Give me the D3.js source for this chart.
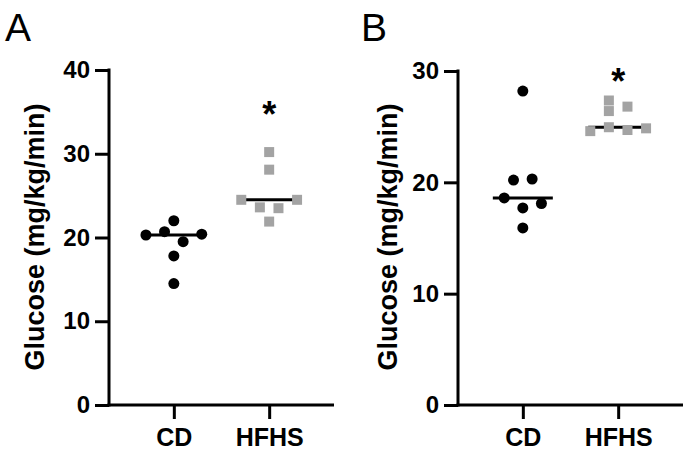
<!DOCTYPE html>
<html>
<head>
<meta charset="utf-8">
<script src="https://cdn.jsdelivr.net/npm/d3@7"></script>
<style>
  body { margin: 0; background: #fff; }
  svg { display: block; font-family: "Liberation Sans", Arial, sans-serif; }
</style>
</head>
<body>
<div id="chart"></div>
<script>
// groups on the x axis
const groups = ['CD', 'HFHS'];

// panel A values (mg/kg/min)
const cdA = [22.0, 20.3, 20.7, 20.4, 19.5, 17.8, 14.5];
const hfhsA = [30.2, 28.1, 24.5, 24.5, 23.6, 23.5, 21.9];
// panel B values (mg/kg/min)
const cdB = [28.2, 20.2, 20.3, 18.6, 18.1, 17.7, 15.9];
const hfhsB = [27.35, 26.4, 26.8, 24.6, 24.95, 24.7, 24.85];

// y axis ticks
const ticksA = [0, 10, 20, 30, 40];
const ticksB = [0, 10, 20, 30];

// significance star height (in axis units)
const starA = 36.4;
const starB = 30.4;

// horizontal dodge of each dot, in half-dot steps
const dodgeCdA = [0, -3, -1, 3, 1, 0, 0];
const dodgeHfhsA = [0, 0, -3, 3, -1, 1, 0];
const dodgeCdB = [0, -1, 1, -2, 2, 0, 0];
const dodgeHfhsB = [-1, -1, 1, -3, -1, 1, 3];

const width = 687, height = 452;
const svg = d3.select('#chart').append('svg')
    .attr('width', width)
    .attr('height', height);

const grey = '#a3a3a3';

function panel(opts) {
    const g = svg.append('g');
    const x = d3.scalePoint()
        .domain(groups)
        .range([opts.left, opts.right])
        .padding(0.68);
    const y = d3.scaleLinear()
        .domain([0, d3.max(opts.ticks)])
        .range([405, opts.top]);

    // y axis
    const ya = g.append('g')
        .attr('transform', `translate(${opts.left},0)`)
        .call(d3.axisLeft(y).tickValues(opts.ticks).tickSize(14).tickPadding(5).tickSizeOuter(0));
    // x axis
    const xa = g.append('g')
        .attr('transform', `translate(0,405)`)
        .call(d3.axisBottom(x).tickSize(14).tickSizeOuter(0));

    [ya, xa].forEach(a => {
        a.select('.domain').attr('stroke', '#000').attr('stroke-width', 3);
        a.selectAll('.tick line').attr('stroke', '#000').attr('stroke-width', 3);
        a.selectAll('.tick text')
            .attr('fill', '#000')
            .style('font-size', '24px')
            .style('font-weight', 'bold')
            .style('font-family', '"Liberation Sans", Arial, sans-serif');
    });
    ya.select('.domain').attr('d', `M0,${y.range()[1] - 1.5}V${406.5}`);
    xa.select('.domain').attr('d', `M${opts.left - 1.5},0H${opts.right}`);
    xa.selectAll('.tick text').attr('y', 41).attr('dy', 0).style('font-size', '25px');

    // y title
    g.append('text')
        .attr('transform', `translate(${opts.titleX},237) rotate(-90)`)
        .attr('text-anchor', 'middle')
        .attr('dy', '0.35em')
        .style('font-size', '27px')
        .style('font-weight', 'bold')
        .text('Glucose (mg/kg/min)');

    // panel letter
    g.append('text')
        .attr('x', opts.letterX)
        .attr('y', 41)
        .style('font-size', '39px')
        .text(opts.letter);

    const step = 9.3;

    // medians
    [opts.cd, opts.hfhs].forEach((vals, i) => {
        const m = d3.median(vals);
        const cx = x(groups[i]);
        g.append('line')
            .attr('x1', cx - 30).attr('x2', cx + 30)
            .attr('y1', y(m)).attr('y2', y(m))
            .attr('stroke', '#000')
            .attr('stroke-width', 3);
    });

    // CD dots
    g.selectAll('circle.cd')
        .data(opts.cd)
        .enter().append('circle')
        .attr('class', 'cd')
        .attr('cx', (d, i) => x('CD') + opts.dodgeCd[i] * step)
        .attr('cy', d => y(d))
        .attr('r', 5.5)
        .attr('fill', '#000');

    // HFHS squares
    g.selectAll('rect.hfhs')
        .data(opts.hfhs)
        .enter().append('rect')
        .attr('class', 'hfhs')
        .attr('x', (d, i) => x('HFHS') + opts.dodgeHfhs[i] * step - 5)
        .attr('y', d => y(d) - 5)
        .attr('width', 10)
        .attr('height', 10)
        .attr('fill', grey);

    // significance star
    g.append('text')
        .attr('x', x('HFHS'))
        .attr('y', y(opts.star))
        .attr('text-anchor', 'middle')
        .attr('dy', '0.75em')
        .style('font-size', '36px')
        .style('font-weight', 'bold')
        .text('*');
}

panel({
    left: 109, right: 334, top: 70,
    ticks: ticksA, cd: cdA, hfhs: hfhsA,
    dodgeCd: dodgeCdA, dodgeHfhs: dodgeHfhsA,
    star: starA, titleX: 35, letter: 'A', letterX: 5
});

panel({
    left: 458, right: 683, top: 71,
    ticks: ticksB, cd: cdB, hfhs: hfhsB,
    dodgeCd: dodgeCdB, dodgeHfhs: dodgeHfhsB,
    star: starB, titleX: 388, letter: 'B', letterX: 361
});
</script>
</body>
</html>
